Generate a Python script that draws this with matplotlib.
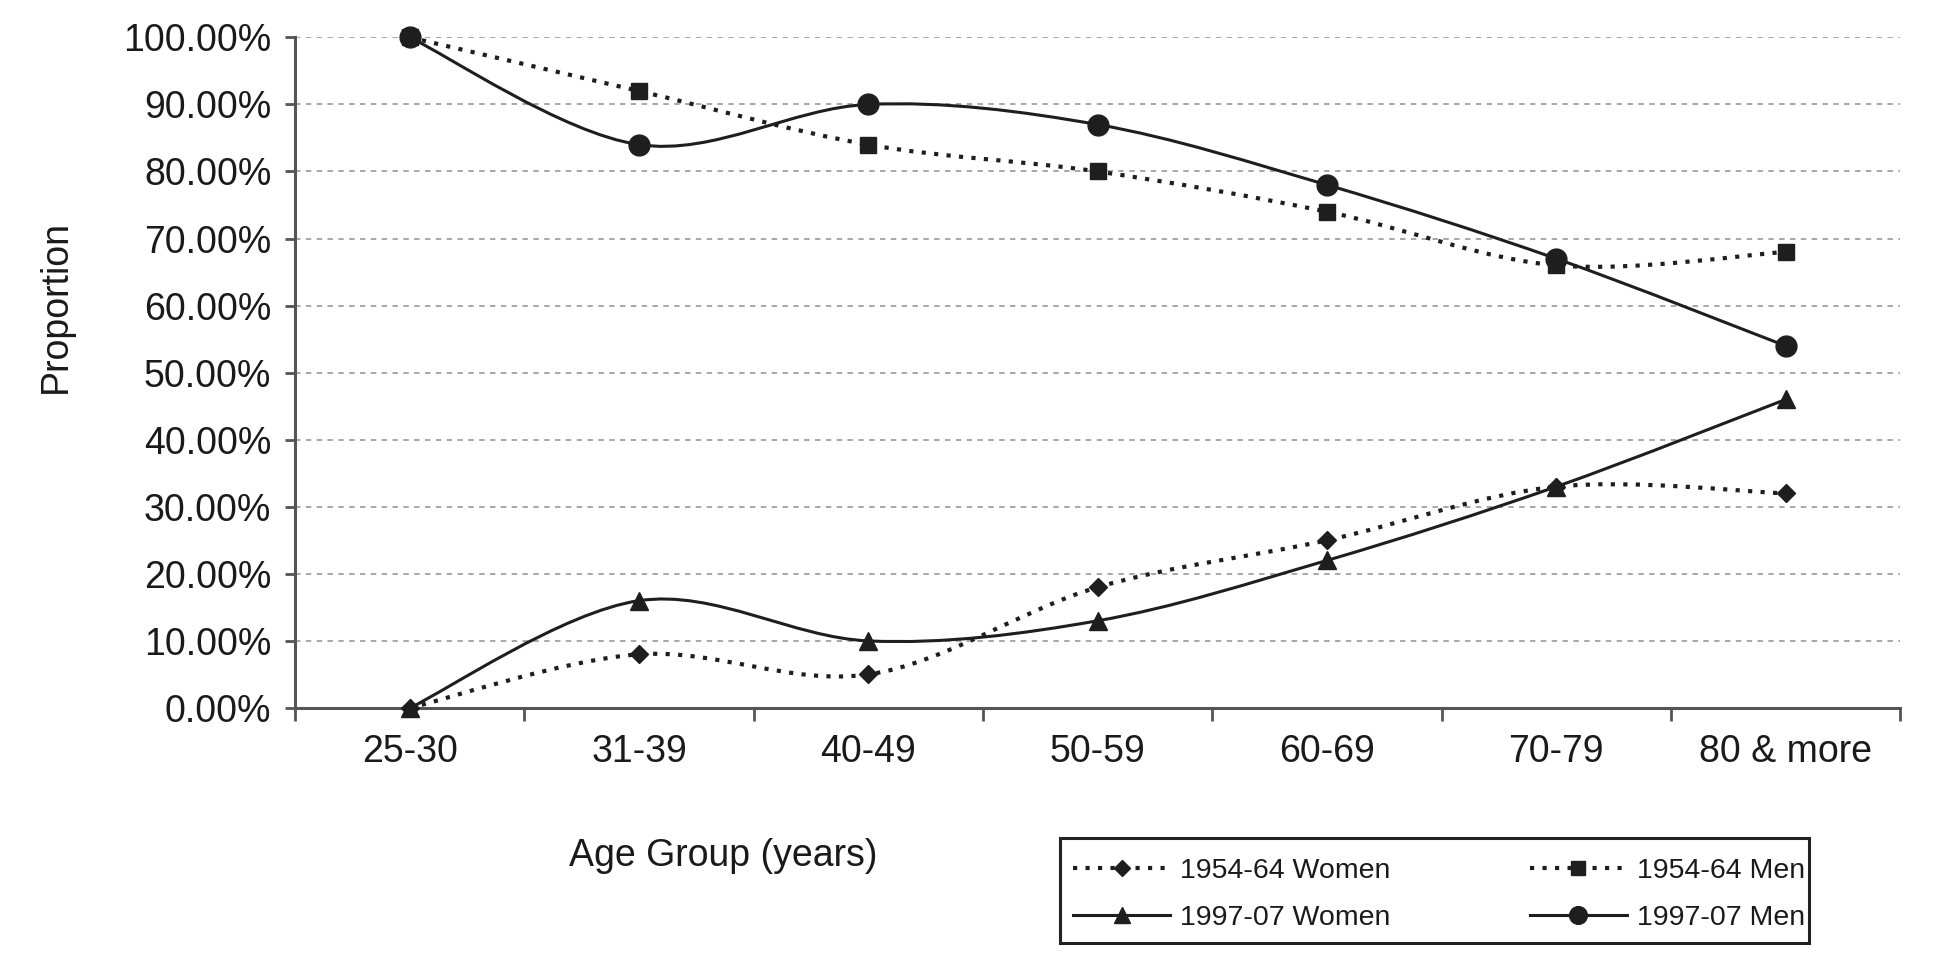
import numpy as np
import matplotlib
matplotlib.use('Agg')
import matplotlib.pyplot as plt
from matplotlib.path import Path
from matplotlib.patches import PathPatch, Rectangle
from matplotlib.lines import Line2D
from matplotlib.ticker import PercentFormatter

plt.rcParams['font.family'] = ['Liberation Sans', 'DejaVu Sans']

# data (proportions)
age_groups = ['25-30', '31-39', '40-49', '50-59', '60-69', '70-79', '80 & more']
women_1954 = [0.00, 0.08, 0.05, 0.18, 0.25, 0.33, 0.32]
men_1954 = [1.00, 0.92, 0.84, 0.80, 0.74, 0.66, 0.68]
women_1997 = [0.00, 0.16, 0.10, 0.13, 0.22, 0.33, 0.46]
men_1997 = [1.00, 0.84, 0.90, 0.87, 0.78, 0.67, 0.54]

INK = '#1e1e1e'
AXC = '#555555'
dotted = (0, (1, 2.0))


def smooth_path(xs, ys):
    # spreadsheet style smoothed line: cubic bezier segments through the points
    pts = np.column_stack([xs, ys]).astype(float)
    n = len(pts)
    verts = [pts[0]]
    codes = [Path.MOVETO]
    for i in range(n - 1):
        p0 = pts[i - 1] if i > 0 else pts[i]
        p3 = pts[i + 2] if i + 2 < n else pts[i + 1]
        c1 = pts[i] + (pts[i + 1] - p0) / 6.0
        c2 = pts[i + 1] - (p3 - pts[i]) / 6.0
        verts += [c1, c2, pts[i + 1]]
        codes += [Path.CURVE4] * 3
    return Path(verts, codes)


series = [
    ('1954-64 Women', women_1954, dotted, 3.0, 'D', 9),
    ('1997-07 Women', women_1997, '-', 2.2, '^', 13.5),
    ('1954-64 Men', men_1954, dotted, 3.0, 's', 11.5),
    ('1997-07 Men', men_1997, '-', 2.2, 'o', 15),
]

fig = plt.figure(figsize=(19.41, 9.58), dpi=100)
ax = fig.add_axes([0.152, 0.261, 0.827, 0.700])

x = np.arange(len(age_groups))
handles = []
for label, vals, ls, lw, mk, ms in series:
    patch = PathPatch(smooth_path(x, vals), facecolor='none', edgecolor=INK,
                      linewidth=lw, linestyle=ls, zorder=3)
    ax.add_patch(patch)
    ax.plot(x, vals, linestyle='none', marker=mk, markersize=ms,
            color=INK, zorder=4, clip_on=False)
    handles.append(Line2D([], [], color=INK, linestyle=ls, linewidth=lw,
                          marker=mk, markersize=ms * 0.85, label=label))

ax.set_xlim(-0.5, len(age_groups) - 0.5)
ax.set_ylim(0, 1)

# y axis
ax.set_yticks(np.arange(0, 1.001, 0.1))
ax.yaxis.set_major_formatter(PercentFormatter(xmax=1.0, decimals=2))
ax.tick_params(axis='y', direction='out', length=7, width=2, color=AXC,
               labelsize=27, labelcolor='#1a1a1a', pad=10)
ax.yaxis.grid(True, color='#a0a0a0', linestyle=(0, (3, 3)), linewidth=1.3)
ax.set_axisbelow(True)

# x axis: ticks between categories, labels at centres
ax.set_xticks(np.arange(-0.5, len(age_groups), 1.0))
ax.set_xticklabels([])
ax.set_xticks(x, minor=True)
ax.set_xticklabels(age_groups, minor=True)
ax.tick_params(axis='x', which='major', direction='out', length=9, width=2, color=AXC)
ax.tick_params(axis='x', which='minor', length=0, labelsize=27,
               labelcolor='#1a1a1a', pad=19)

for side in ['top', 'right']:
    ax.spines[side].set_visible(False)
for side in ['left', 'bottom']:
    ax.spines[side].set_color(AXC)
    ax.spines[side].set_linewidth(2.2)

fig.text(0.0287, 0.680, 'Proportion', rotation=90, ha='center', va='center',
         fontsize=27, color='#1a1a1a')
fig.text(0.3724, 0.1065, 'Age Group (years)', ha='center', va='center',
         fontsize=27, color='#1a1a1a')

# legend box drawn as its own rectangle, entries placed inside it
fig.add_artist(Rectangle((0.546, 0.0155), 0.386, 0.1095, transform=fig.transFigure,
                         fill=False, edgecolor='#222222', linewidth=2.2))
leg = fig.legend(handles=handles, ncol=2, loc='center left',
                 bbox_to_anchor=(0.553, 0.066), bbox_transform=fig.transFigure,
                 borderaxespad=0, borderpad=0, fontsize=20.5, handlelength=3.4,
                 handletextpad=0.35, labelspacing=0.75, columnspacing=4.9,
                 frameon=False)
for t in leg.get_texts():
    t.set_color('#1a1a1a')

fig.savefig('out.png', dpi=100, facecolor='white')
